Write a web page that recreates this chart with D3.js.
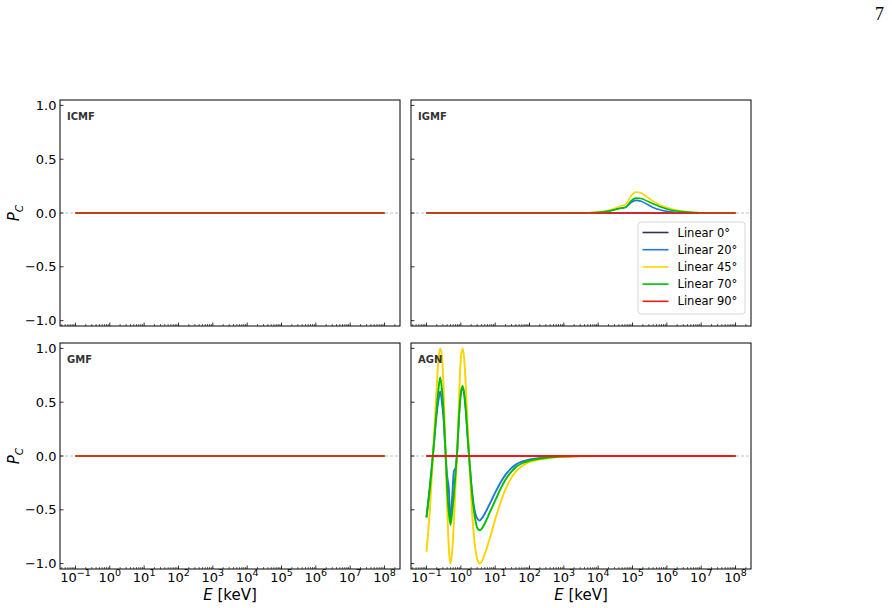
<!DOCTYPE html>
<html>
<head>
<meta charset="utf-8">
<script src="https://cdn.jsdelivr.net/npm/d3@7"></script>
<style>
  body { margin: 0; background: #fff; }
  svg { display: block; font-family: 'DejaVu Sans', sans-serif; }
</style>
</head>
<body>
<script>
// --- data (log10 of energy in keV, circular polarisation P_C) ---
const panelNames = ['ICMF', 'IGMF', 'GMF', 'AGN'];
const seriesNames = ['Linear 0°', 'Linear 20°', 'Linear 45°', 'Linear 70°', 'Linear 90°'];
const seriesColors = ['#33334f', '#1f78dc', '#ffd200', '#00bf00', '#f21818'];

const flatLogE = [-1, 0, 1, 2, 3, 4, 5, 6, 7, 8];
const flatPc = [0, 0, 0, 0, 0, 0, 0, 0, 0, 0];

const igmfLogE = [-1, 0, 1, 2, 3, 3.5, 3.75, 4.0, 4.25, 4.5, 4.65, 4.8, 4.95, 5.1, 5.25, 5.4, 5.6, 5.8, 6.0, 6.3, 6.6, 7.0, 7.5, 8];
const igmf20 = [0, 0, 0, 0, 0, 0.001, 0.002, 0.005, 0.014, 0.032, 0.044, 0.052, 0.095, 0.117, 0.11, 0.085, 0.052, 0.03, 0.015, 0.005, 0.001, 0, 0, 0];
const igmf45 = [0, 0, 0, 0, 0, 0.001, 0.003, 0.008, 0.02, 0.045, 0.065, 0.08, 0.155, 0.195, 0.185, 0.155, 0.11, 0.075, 0.05, 0.025, 0.011, 0.003, 0.001, 0];
const igmf70 = [0, 0, 0, 0, 0, 0.001, 0.002, 0.006, 0.015, 0.033, 0.045, 0.055, 0.11, 0.138, 0.135, 0.115, 0.085, 0.058, 0.038, 0.018, 0.008, 0.002, 0, 0];

const agnLogE = [-1.0, -0.9, -0.8, -0.7, -0.65, -0.6, -0.55, -0.5, -0.45, -0.4, -0.35, -0.3, -0.25, -0.2, -0.15, -0.1, -0.05, 0.0, 0.05, 0.1, 0.15, 0.2, 0.25, 0.3, 0.4, 0.5, 0.55, 0.6, 0.7, 0.85, 1.0, 1.15, 1.3, 1.45, 1.6, 1.8, 2.0, 2.25, 2.5, 2.75, 3.0, 3.5, 4, 5, 6, 7, 8];
const agn20 = [-0.57, -0.28, 0.05, 0.40, 0.52, 0.60, 0.50, 0.34, 0.05, -0.18, -0.30, -0.61, -0.38, -0.14, -0.11, 0.06, 0.38, 0.58, 0.63, 0.57, 0.40, 0.17, -0.04, -0.24, -0.50, -0.59, -0.60, -0.585, -0.535, -0.44, -0.34, -0.25, -0.175, -0.12, -0.08, -0.05, -0.033, -0.02, -0.012, -0.006, -0.003, 0, 0, 0, 0, 0, 0];
const agn45 = [-0.89, -0.50, 0.05, 0.65, 0.90, 1.00, 0.93, 0.62, 0.08, -0.45, -0.85, -1.00, -0.88, -0.60, -0.25, 0.08, 0.55, 0.90, 1.00, 0.90, 0.62, 0.28, -0.05, -0.38, -0.80, -0.98, -1.00, -0.985, -0.91, -0.76, -0.59, -0.44, -0.31, -0.215, -0.145, -0.09, -0.058, -0.035, -0.022, -0.013, -0.007, -0.002, 0, 0, 0, 0, 0];
const agn70 = [-0.57, -0.30, 0.05, 0.45, 0.62, 0.73, 0.62, 0.40, 0.08, -0.28, -0.52, -0.64, -0.52, -0.35, -0.15, 0.08, 0.38, 0.58, 0.65, 0.58, 0.42, 0.18, -0.04, -0.25, -0.55, -0.68, -0.69, -0.68, -0.625, -0.52, -0.415, -0.31, -0.22, -0.155, -0.105, -0.065, -0.043, -0.027, -0.017, -0.009, -0.005, -0.001, 0, 0, 0, 0, 0];

const yTicks = [-1.0, -0.5, 0.0, 0.5, 1.0];
const xDecades = [-1, 0, 1, 2, 3, 4, 5, 6, 7, 8];

// one entry per panel: [logE, values per series]
const panelData = [
  { x: flatLogE, ys: [flatPc, flatPc, flatPc, flatPc, flatPc] },
  { x: igmfLogE, ys: [igmfLogE.map(() => 0), igmf20, igmf45, igmf70, igmfLogE.map(() => 0)] },
  { x: flatLogE, ys: [flatPc, flatPc, flatPc, flatPc, flatPc] },
  { x: agnLogE, ys: [agnLogE.map(() => 0), agn20, agn45, agn70, agnLogE.map(() => 0)] }
];

// --- layout ---
const width = 892;
const height = 608;
const cols = [[60, 400], [411, 751]];
const rows = [[100, 326], [343, 569]];

const svg = d3.select('body')
  .append('svg')
  .attr('width', width)
  .attr('height', height);

svg.append('text')
  .attr('x', 884)
  .attr('y', 20)
  .attr('text-anchor', 'end')
  .style('font-family', "'Liberation Serif', serif")
  .style('font-size', '18px')
  .text('7');

panelNames.forEach((name, i) => {
  const col = i % 2;
  const row = Math.floor(i / 2);
  const [x0, x1] = cols[col];
  const [y0, y1] = rows[row];

  const x = d3.scaleLog()
    .domain([Math.pow(10, -1.45), Math.pow(10, 8.45)])
    .range([x0, x1]);
  const y = d3.scaleLinear()
    .domain([-1.05, 1.05])
    .range([y1, y0]);

  const g = svg.append('g').attr('class', 'panel');

  g.append('clipPath')
    .attr('id', `clip-${ i }`)
    .append('rect')
    .attr('x', x0).attr('y', y0)
    .attr('width', x1 - x0).attr('height', y1 - y0);

  // zero reference
  g.append('line')
    .attr('x1', x0).attr('x2', x1)
    .attr('y1', y(0)).attr('y2', y(0))
    .attr('stroke', '#b0b0b0')
    .attr('stroke-width', 0.8)
    .attr('stroke-dasharray', '3,2');

  const line = d3.line()
    .x(d => x(Math.pow(10, d[0])))
    .y(d => y(d[1]))
    .curve(d3.curveMonotoneX);

  const data = panelData[i];
  const lines = g.append('g').attr('clip-path', `url(#clip-${ i })`);
  data.ys.forEach((vals, s) => {
    lines.append('path')
      .datum(data.x.map((e, k) => [e, vals[k]]))
      .attr('d', line)
      .attr('fill', 'none')
      .attr('stroke', seriesColors[s])
      .attr('stroke-width', i === 3 ? 1.9 : 1.6);
  });

  // frame
  g.append('rect')
    .attr('x', x0).attr('y', y0)
    .attr('width', x1 - x0).attr('height', y1 - y0)
    .attr('fill', 'none')
    .attr('stroke', '#000')
    .attr('stroke-width', 1);

  // y ticks (inward)
  yTicks.forEach(t => {
    g.append('line')
      .attr('x1', x0).attr('x2', x0 + 3.5)
      .attr('y1', y(t)).attr('y2', y(t))
      .attr('stroke', '#000').attr('stroke-width', 0.8);
    if (col === 0) {
      g.append('text')
        .attr('x', x0 - 3.5)
        .attr('y', y(t))
        .attr('dy', '0.36em')
        .attr('text-anchor', 'end')
        .style('font-size', '13px')
        .text(d3.format('.1f')(t).replace('-', '−'));
    }
  });

  // x ticks: majors and minors
  xDecades.forEach(dec => {
    const px = x(Math.pow(10, dec));
    g.append('line')
      .attr('x1', px).attr('x2', px)
      .attr('y1', y1).attr('y2', y1 - 3.5)
      .attr('stroke', '#000').attr('stroke-width', 0.8);
    if (row === 1) {
      const label = g.append('text')
        .attr('x', px)
        .attr('y', y1 + 12.5)
        .attr('text-anchor', 'middle')
        .style('font-size', '13px');
      label.append('tspan').text('10');
      label.append('tspan')
        .attr('dy', -6)
        .style('font-size', '9.5px')
        .text(String(dec).replace('-', '−'));
    }
  });
  d3.range(-2, 9).forEach(dec => {
    d3.range(2, 10).forEach(m => {
      const v = m * Math.pow(10, dec);
      const px = x(v);
      if (px <= x0 || px >= x1) return;
      g.append('line')
        .attr('x1', px).attr('x2', px)
        .attr('y1', y1).attr('y2', y1 - 2)
        .attr('stroke', '#000').attr('stroke-width', 0.6);
    });
  });

  // panel name
  g.append('text')
    .attr('x', x0 + 7)
    .attr('y', y0 + 20)
    .style('font-size', '10px')
    .style('font-weight', 'bold')
    .attr('fill', '#333')
    .text(name);

  // axis labels
  if (col === 0) {
    const yl = g.append('text')
      .attr('transform', `translate(19,${ (y0 + y1) / 2 }) rotate(-90)`)
      .attr('text-anchor', 'middle')
      .style('font-size', '15px');
    yl.append('tspan').style('font-style', 'italic').text('P');
    yl.append('tspan').attr('dy', 4).style('font-size', '10.5px').style('font-style', 'italic').text('C');
  }
  if (row === 1) {
    const xl = g.append('text')
      .attr('x', (x0 + x1) / 2)
      .attr('y', y1 + 31)
      .attr('text-anchor', 'middle')
      .style('font-size', '15px');
    xl.append('tspan').style('font-style', 'italic').text('E');
    xl.append('tspan').text(' [keV]');
  }

  // legend in the IGMF panel
  if (i === 1) {
    const lg = g.append('g').attr('transform', 'translate(638,222)');
    lg.append('rect')
      .attr('width', 107).attr('height', 92)
      .attr('rx', 3)
      .attr('fill', '#fff').attr('fill-opacity', 0.85)
      .attr('stroke', '#ccc').attr('stroke-width', 0.8);
    seriesNames.forEach((s, k) => {
      const ly = 10.5 + k * 17.2;
      lg.append('line')
        .attr('x1', 4.5).attr('x2', 30.5)
        .attr('y1', ly).attr('y2', ly)
        .attr('stroke', seriesColors[k]).attr('stroke-width', 1.6);
      lg.append('text')
        .attr('x', 39.5)
        .attr('y', ly)
        .attr('dy', '0.36em')
        .style('font-size', '11.5px')
        .text(s);
    });
  }
});
</script>
</body>
</html>
